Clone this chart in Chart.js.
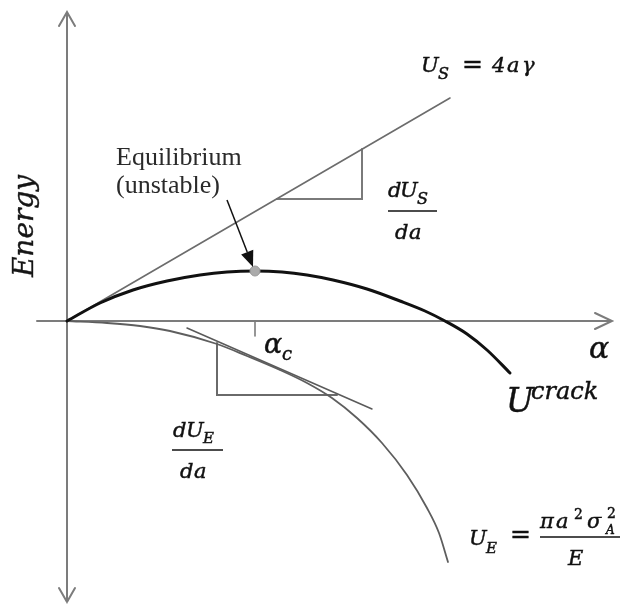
<!DOCTYPE html>
<html>
<head>
<meta charset="utf-8">
<script src="https://cdn.jsdelivr.net/npm/chart.js@4/dist/chart.umd.min.js"></script>
<style>
  html, body { margin: 0; padding: 0; background: #fff; }
  #wrap { width: 621px; height: 604px; position: relative; }
</style>
</head>
<body>
<div id="wrap"><canvas id="c"></canvas></div>
<script>
// Griffith energy balance: crack length a (horizontal), energy (vertical), schematic units

// surface energy U_S = 4aγ (straight line)
const surfaceA = [0, 3.83];
const surfaceU = [0, 2.23];

// total crack energy U^crack
const crackA = [0, 0.33, 0.66, 1.00, 1.33, 1.60, 1.88, 2.15, 2.40, 2.66, 3.00, 3.33, 3.58, 3.78, 4.00, 4.20, 4.43];
const crackU = [0, 0.18, 0.31, 0.40, 0.46, 0.49, 0.50, 0.49, 0.46, 0.41, 0.32, 0.20, 0.10, 0.00, -0.13, -0.29, -0.52];

// released elastic energy U_E (drawn below the axis)
const elasticA = [0, 0.40, 0.73, 1.03, 1.50, 1.80, 2.13, 2.40, 2.65, 2.90, 3.15, 3.40, 3.60, 3.72, 3.81];
const elasticU = [0, -0.02, -0.05, -0.10, -0.23, -0.35, -0.49, -0.62, -0.77, -0.97, -1.22, -1.54, -1.87, -2.12, -2.41];

// tangent to U_E near the critical length
const tangentA = [1.20, 3.05];
const tangentU = [-0.07, -0.88];

// slope triangles dU_S/da and dU_E/da
const slopeSA = [2.10, 2.95, 2.95];
const slopeSU = [1.22, 1.22, 1.72];
const slopeEA = [1.50, 1.50, 2.70];
const slopeEU = [-0.22, -0.74, -0.74];

// unstable equilibrium at the critical crack length a_c
const criticalA = 1.88;
const criticalU = 0.50;

// callout arrow from the "Equilibrium" note to the maximum
const calloutA = [1.60, 1.86];
const calloutU = [1.21, 0.54];

// axis extents
const axisA = [-0.30, 5.45];
const axisU = [-2.81, 3.09];

const pts = (xs, ys) => xs.map((x, i) => ({ x: x, y: ys[i] }));

const MATH = '"DejaVu Serif"';
const INK = '#111111';

// one piece of a formula, slightly emboldened with a hairline stroke
function run(ctx, text, x, y, size, italic, color) {
  ctx.font = (italic === false ? '' : 'italic ') + size + 'px ' + MATH;
  ctx.fillStyle = color || INK;
  ctx.strokeStyle = color || INK;
  ctx.lineWidth = 0.45;
  ctx.textAlign = 'left';
  ctx.textBaseline = 'alphabetic';
  ctx.fillText(text, x, y);
  ctx.strokeText(text, x, y);
}

function bar(ctx, x0, x1, y) {
  ctx.save();
  ctx.strokeStyle = INK;
  ctx.lineWidth = 1.6;
  ctx.beginPath();
  ctx.moveTo(x0, y);
  ctx.lineTo(x1, y);
  ctx.stroke();
  ctx.restore();
}

const decor = {
  id: 'decor',
  beforeDatasetsDraw(chart) {
    const ctx = chart.ctx;
    const xs = chart.scales.x, ys = chart.scales.y;
    const X = v => xs.getPixelForValue(v), Y = v => ys.getPixelForValue(v);
    ctx.save();
    ctx.strokeStyle = '#7c7c7c';
    ctx.lineWidth = 2;
    ctx.lineCap = 'round';
    // horizontal axis with arrow
    const y0 = Y(0), xr = X(axisA[1]);
    ctx.beginPath();
    ctx.moveTo(X(axisA[0]), y0); ctx.lineTo(xr, y0);
    ctx.moveTo(xr - 17, y0 - 8); ctx.lineTo(xr, y0); ctx.lineTo(xr - 17, y0 + 8);
    ctx.stroke();
    // vertical axis with arrows at both ends
    const x0 = X(0), yt = Y(axisU[1]), yb = Y(axisU[0]);
    ctx.beginPath();
    ctx.moveTo(x0, yb); ctx.lineTo(x0, yt);
    ctx.moveTo(x0 - 8, yt + 14); ctx.lineTo(x0, yt); ctx.lineTo(x0 + 8, yt + 14);
    ctx.moveTo(x0 - 8, yb - 14); ctx.lineTo(x0, yb); ctx.lineTo(x0 + 8, yb - 14);
    ctx.stroke();
    // tick at a_c
    const xc = X(criticalA);
    ctx.lineWidth = 1.6;
    ctx.beginPath();
    ctx.moveTo(xc, y0); ctx.lineTo(xc, y0 + 15);
    ctx.stroke();
    ctx.restore();
  },
  afterDatasetsDraw(chart) {
    const ctx = chart.ctx;
    const xs = chart.scales.x, ys = chart.scales.y;
    const X = v => xs.getPixelForValue(v), Y = v => ys.getPixelForValue(v);
    ctx.save();

    // callout arrow
    const ax0 = X(calloutA[0]), ay0 = Y(calloutU[0]);
    const ax1 = X(calloutA[1]), ay1 = Y(calloutU[1]);
    const ang = Math.atan2(ay1 - ay0, ax1 - ax0);
    const hl = 16, hw = 6.5;
    const bx = ax1 - hl * Math.cos(ang), by = ay1 - hl * Math.sin(ang);
    ctx.strokeStyle = '#111';
    ctx.fillStyle = '#111';
    ctx.lineWidth = 1.5;
    ctx.beginPath();
    ctx.moveTo(ax0, ay0); ctx.lineTo(bx, by);
    ctx.stroke();
    ctx.beginPath();
    ctx.moveTo(ax1, ay1);
    ctx.lineTo(bx + hw * Math.sin(ang), by - hw * Math.cos(ang));
    ctx.lineTo(bx - hw * Math.sin(ang), by + hw * Math.cos(ang));
    ctx.closePath();
    ctx.fill();

    // vertical axis title
    ctx.save();
    ctx.translate(33, 226);
    ctx.rotate(-Math.PI / 2);
    ctx.font = 'italic 28px ' + MATH;
    ctx.fillStyle = '#161616';
    ctx.strokeStyle = '#161616';
    ctx.lineWidth = 0.4;
    ctx.textAlign = 'center';
    ctx.fillText('Energy', 0, 0);
    ctx.strokeText('Energy', 0, 0);
    ctx.restore();

    // equilibrium note
    ctx.font = '26px "Liberation Serif"';
    ctx.fillStyle = '#2a2a2a';
    ctx.textAlign = 'left';
    ctx.fillText('Equilibrium', 116, 165);
    ctx.fillText('(unstable)', 116, 193);

    // U_S = 4aγ
    run(ctx, 'U', 421, 72, 21);
    run(ctx, 'S', 438, 79, 16);
    run(ctx, '=', 462, 72, 25, false);
    run(ctx, '4', 492, 72, 21);
    run(ctx, 'a', 507, 72, 21);
    run(ctx, 'γ', 522, 72, 21);

    // dU_S / da
    run(ctx, 'd', 388, 197, 21);
    run(ctx, 'U', 400, 197, 21);
    run(ctx, 'S', 417, 204, 16);
    bar(ctx, 388, 437, 211);
    run(ctx, 'd', 395, 239, 21);
    run(ctx, 'a', 409, 239, 21);

    // horizontal axis title
    run(ctx, 'α', 589, 358, 30);

    // U^crack
    run(ctx, 'U', 506, 412, 33);
    run(ctx, 'crack', 531, 399, 24);

    // a_c
    run(ctx, 'α', 264, 353, 27);
    run(ctx, 'c', 282, 360, 18);

    // dU_E / da
    run(ctx, 'd', 173, 437, 21);
    run(ctx, 'U', 186, 437, 21);
    run(ctx, 'E', 203, 443, 15);
    bar(ctx, 172, 223, 450);
    run(ctx, 'd', 180, 478, 21);
    run(ctx, 'a', 194, 478, 21);

    // U_E = π a² σ_A² / E
    run(ctx, 'U', 469, 545, 21);
    run(ctx, 'E', 486, 553, 15);
    run(ctx, '=', 510, 542, 25, false);
    bar(ctx, 540, 620, 537);
    run(ctx, 'π', 540, 528, 21);
    run(ctx, 'a', 556, 528, 21);
    run(ctx, '2', 574, 519, 14, false);
    run(ctx, 'σ', 587, 528, 21);
    run(ctx, '2', 607, 518, 14, false);
    run(ctx, 'A', 606, 534, 12);
    run(ctx, 'E', 568, 565, 21);

    ctx.restore();
  }
};

const lineSet = (data, color, width, smooth) => ({
  type: 'line',
  data: data,
  borderColor: color,
  borderWidth: width,
  pointRadius: 0,
  fill: false,
  showLine: true,
  tension: 0,
  cubicInterpolationMode: smooth ? 'monotone' : 'default',
  borderCapStyle: 'round',
  borderJoinStyle: 'miter'
});

new Chart(document.getElementById('c'), {
  type: 'scatter',
  data: {
    datasets: [
      Object.assign(lineSet([{ x: criticalA, y: criticalU }], '#9a9a9a', 1, false), {
        showLine: false, pointRadius: 5, pointBackgroundColor: '#ababab', pointBorderColor: '#9a9a9a', pointBorderWidth: 1
      }),
      lineSet(pts(crackA, crackU), '#111111', 3, true),
      lineSet(pts(surfaceA, surfaceU), '#6c6c6c', 1.6, false),
      lineSet(pts(elasticA, elasticU), '#5e5e5e', 1.8, true),
      lineSet(pts(tangentA, tangentU), '#5a5a5a', 1.5, false),
      lineSet(pts(slopeSA, slopeSU), '#7a7a7a', 2, false),
      lineSet(pts(slopeEA, slopeEU), '#6a6a6a', 2, false)
    ]
  },
  options: {
    responsive: true,
    maintainAspectRatio: false,
    animation: false,
    events: [],
    layout: { padding: 0, autoPadding: false },
    plugins: { legend: { display: false }, tooltip: { enabled: false } },
    scales: {
      x: { type: 'linear', display: false, min: -0.67, max: 5.54 },
      y: { type: 'linear', display: false, min: -2.83, max: 3.21 }
    }
  },
  plugins: [decor]
});
</script>
</body>
</html>
